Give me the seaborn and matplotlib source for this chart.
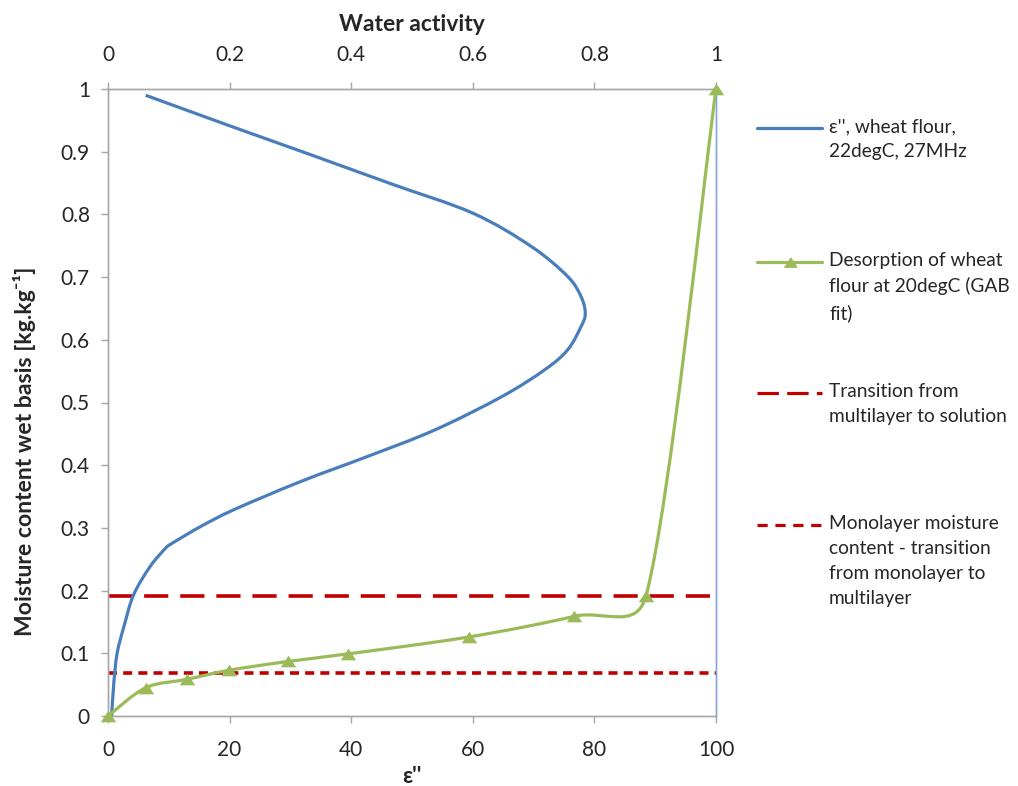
import numpy as np
import matplotlib
matplotlib.use("Agg")
import matplotlib.pyplot as plt
from matplotlib.path import Path
from matplotlib.patches import PathPatch
from matplotlib.lines import Line2D
from matplotlib.ticker import FuncFormatter
import seaborn as sns

sns.set_style("white")
plt.rcParams["font.family"] = ["Lato", "DejaVu Sans"]

# DATA
# dielectric loss factor of wheat flour vs moisture content (bottom axis)
eps_loss = [6.2, 20.1, 33.1, 46.5, 60.0, 69.6, 75.6, 77.8, 78.5, 77.8, 75.6,
            71.8, 64.7, 53.7, 42.7, 31.7, 20.7, 15.2, 10.3, 9.5, 6.9, 4.2,
            2.6, 1.5, 0.95, 0.6]
eps_mc = [0.990, 0.941, 0.896, 0.849, 0.802, 0.749, 0.701, 0.669, 0.642,
          0.621, 0.584, 0.552, 0.509, 0.456, 0.414, 0.374, 0.329, 0.302,
          0.274, 0.268, 0.238, 0.193, 0.142, 0.100, 0.052, 0.0]

# desorption isotherm, GAB fit (top axis)
water_act = [0.0, 0.062, 0.13, 0.199, 0.296, 0.394, 0.593, 0.767, 0.885, 1.0]
desorp_mc = [0.0, 0.045, 0.0585, 0.073, 0.087, 0.099, 0.126, 0.159, 0.192, 1.0]

mc_solution = 0.192
mc_monolayer = 0.068

x_ticks = [0, 20, 40, 60, 80, 100]
aw_ticks = [0, 0.2, 0.4, 0.6, 0.8, 1]
y_ticks = [0, 0.1, 0.2, 0.3, 0.4, 0.5, 0.6, 0.7, 0.8, 0.9, 1]

legend_labels = [
    "ε'', wheat flour,\n22degC, 27MHz",
    "Desorption of wheat\nflour at 20degC (GAB\nfit)",
    "Transition from\nmultilayer to solution",
    "Monolayer moisture\ncontent - transition\nfrom monolayer to\nmultilayer",
]

BLUE = "#4A7EBB"
GREEN = "#9BBB59"
RED = "#C00000"
GREY = "#A6A6A6"
W, H = 1018, 786


def excel_smooth(ax, xs, ys):
    # Excel-like smoothed line: bezier segments, handles capped at half segment
    pts = ax.transData.transform(np.column_stack([xs, ys]))
    n = len(pts)
    verts = [pts[0]]
    codes = [Path.MOVETO]
    for i in range(n - 1):
        p0, p1 = pts[max(i - 1, 0)], pts[i]
        p2, p3 = pts[i + 1], pts[min(i + 2, n - 1)]
        d12 = np.hypot(*(p2 - p1))
        d02 = np.hypot(*(p2 - p0))
        d13 = np.hypot(*(p3 - p1))
        f1 = 1 / 6 if d02 / 6 < d12 / 2 else d12 / (2 * d02)
        f2 = 1 / 6 if d13 / 6 < d12 / 2 else d12 / (2 * d13)
        verts += [p1 + f1 * (p2 - p0), p2 - f2 * (p3 - p1), p2]
        codes += [Path.CURVE4] * 3
    verts = ax.transData.inverted().transform(np.array(verts))
    return Path(verts, codes)


fig = plt.figure(figsize=(W / 100, H / 100), dpi=100)
ax = fig.add_axes([108 / W, 1 - 716 / H, 608 / W, 627 / H])
ax2 = ax.twiny()
ax.set_xlim(0, 100)
ax.set_ylim(0, 1)
ax2.set_xlim(0, 1)

# ── reference lines
ax.axhline(mc_solution, color=RED, lw=2.6, dashes=(6.7, 3.3), zorder=2)
ax.axhline(mc_monolayer, color=RED, lw=2.6, dashes=(2.5, 1.7), zorder=2)

# ── dielectric loss curve (smoothed like the spreadsheet line)
sns.lineplot(x=eps_loss, y=eps_mc, sort=False, estimator=None, color=BLUE,
             lw=0, ax=ax, legend=False)
ax.add_patch(PathPatch(excel_smooth(ax, eps_loss, eps_mc), facecolor="none",
                       edgecolor=BLUE, lw=2.3, zorder=3))

# ── desorption isotherm on water activity axis
tri = [(-1, -0.75), (1, -0.75), (0, 0.75)]
ax2.add_patch(PathPatch(excel_smooth(ax2, water_act, desorp_mc),
                        facecolor="none", edgecolor=GREEN, lw=2.3, zorder=3))
sns.scatterplot(x=water_act, y=desorp_mc, marker=tri, s=125, color=GREEN,
                linewidth=0, ax=ax2, clip_on=False, zorder=4, legend=False)

# ── axes styling
fmt = FuncFormatter(lambda v, p: f"{v:g}")
ax.set_xticks(x_ticks)
ax.set_yticks(y_ticks)
ax2.set_xticks(aw_ticks)
ax.set_xlim(0, 100)
ax.set_ylim(0, 1)
ax2.set_xlim(0, 1)
for a in (ax, ax2):
    a.xaxis.set_major_formatter(fmt)
    a.yaxis.set_major_formatter(fmt)
    a.tick_params(direction="out", length=5, width=1, color=GREY,
                  labelsize=15, pad=6)
    for s in a.spines.values():
        s.set_color(GREY)
        s.set_linewidth(1)
    a.spines["right"].set_color("#86A8D8")
ax.tick_params(axis="x", bottom=True, pad=12)
ax.tick_params(axis="y", left=True, pad=8)
ax2.tick_params(axis="x", top=True, pad=12)

ax.set_xlabel("ε''", fontsize=16, fontweight="bold")
ax.xaxis.set_label_coords(0.5, -0.080)
ax2.set_xlabel("Water activity", fontsize=16.5, fontweight="bold")
ax2.xaxis.set_label_coords(0.5, 1.093)
ax.set_ylabel("Moisture content wet basis [kg.kg⁻¹]", fontsize=16.6,
              fontweight="bold")
ax.yaxis.set_label_coords(-0.118, 0.4226)

# ── legend drawn to the right of the plot
handles = [
    dict(color=BLUE, ls="-", marker=False),
    dict(color=GREEN, ls="-", marker=True),
    dict(color=RED, ls=(0, (6.7, 2.6)), marker=False),
    dict(color=RED, ls=(0, (3.2, 2.4)), marker=False),
]
legend_y = [128, 262, 393, 525]
for hdl, lab, py in zip(handles, legend_labels, legend_y):
    fy = 1 - py / H
    fig.add_artist(Line2D([757 / W, 822 / W], [fy, fy], color=hdl["color"],
                          ls=hdl["ls"], lw=2.3))
    if hdl["marker"]:
        fig.add_artist(Line2D([789.5 / W], [fy], color=GREEN, marker=tri,
                              markersize=9, lw=0))
    fig.text(829 / W, fy + 10 / H, lab, fontsize=13.8, va="top", ha="left",
             linespacing=1.56)

fig.savefig("out.png", dpi=100)
